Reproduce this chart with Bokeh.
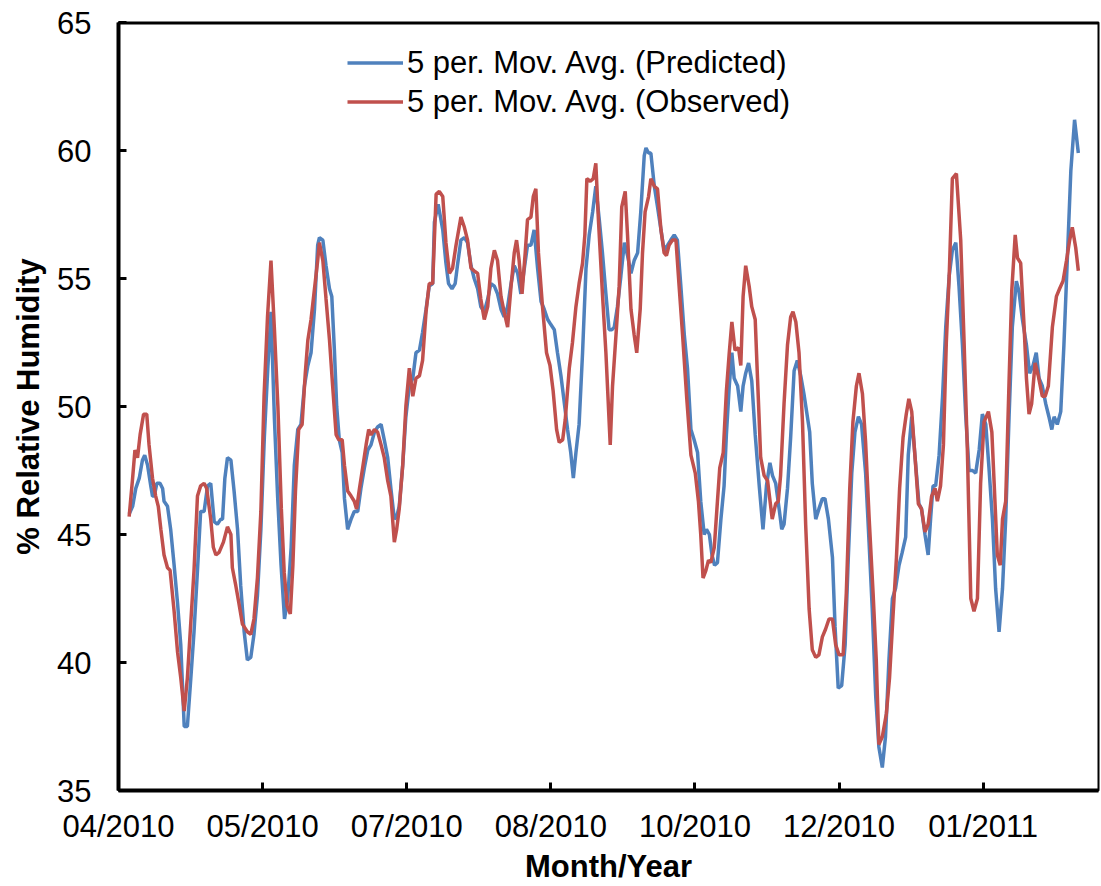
from bokeh.plotting import figure
from bokeh.models import Range1d, FixedTicker, Legend, LegendItem, Span
from bokeh.embed import file_html
from bokeh.resources import INLINE

# Days counted from the start of the date axis (04/2010); tick labels every 50 days
tick_days = [0, 50, 100, 150, 200, 250, 300]
tick_labels = ["04/2010", "05/2010", "07/2010", "08/2010", "10/2010", "12/2010", "01/2011"]
y_ticks = [35, 40, 45, 50, 55, 60, 65]

pred_day = [3.7, 4.9, 6.0, 7.2, 8.3, 9.1, 10.1, 11.2, 11.8, 12.4, 13.3, 14.4, 15.3, 15.8, 17.0, 18.1,
            19.3, 20.5, 21.6, 22.8, 23.9, 25.1, 26.2, 27.4, 28.5, 29.7, 30.9, 32.0, 33.2, 34.3, 35.5,
            36.1, 36.9, 37.8, 39.0, 40.1, 41.3, 42.4, 43.6, 44.7, 45.9, 47.0, 48.2, 49.4, 50.6, 51.8,
            52.9, 54.1, 55.2, 56.4, 57.6, 58.7, 59.9, 61.0, 62.2, 63.3, 64.5, 65.7, 66.8, 68.0, 69.1,
            69.7, 70.9, 72.0, 73.2, 74.0, 74.9, 75.7, 76.6, 77.6, 78.4, 79.5, 80.7, 81.8, 83.0, 84.1,
            85.3, 86.5, 87.6, 88.8, 89.9, 91.1, 92.2, 93.4, 94.5, 95.7, 96.5, 97.4, 98.6, 99.7, 100.9,
            102.1, 103.2, 104.4, 105.5, 106.7, 107.8, 109.0, 109.6, 110.9, 112.5, 113.6, 114.5, 115.7,
            116.8, 117.7, 118.8, 120.0, 121.1, 122.3, 123.4, 124.6, 125.7, 126.9, 128.1, 129.2, 130.4,
            131.5, 132.7, 133.8, 135.0, 136.2, 137.3, 138.5, 139.6, 140.8, 141.9, 143.1, 144.2, 145.4,
            146.6, 147.7, 148.9, 150.0, 151.2, 152.3, 153.5, 154.6, 155.8, 156.9, 157.8, 158.7, 159.8,
            161.0, 162.2, 163.3, 164.5, 165.6, 166.8, 167.9, 169.1, 170.2, 171.2, 172.0, 173.1, 174.3,
            175.5, 176.6, 177.8, 178.9, 180.1, 181.2, 182.4, 183.0, 183.9, 184.7, 185.9, 187.0, 188.2,
            189.3, 190.5, 191.6, 192.8, 193.9, 195.1, 196.3, 197.4, 198.6, 199.7, 200.9, 202.0, 203.2,
            204.0, 205.0, 205.9, 206.8, 207.8, 209.0, 210.1, 210.9, 211.9, 212.8, 213.6, 214.8, 215.9,
            216.7, 217.6, 218.6, 219.7, 220.9, 222.3, 223.6, 224.8, 226.0, 226.9, 228.0, 229.2, 230.1,
            230.9, 232.1, 233.2, 234.4, 235.5, 236.7, 237.8, 239.0, 239.8, 240.7, 241.9, 243.0, 244.2,
            245.1, 246.3, 247.7, 248.6, 249.7, 250.9, 252.1, 253.2, 254.4, 255.5, 256.7, 257.8, 259.2,
            260.4, 261.5, 262.7, 263.8, 265.0, 266.1, 267.3, 268.5, 269.6, 270.8, 271.9, 273.1, 274.0,
            275.2, 276.3, 277.7, 278.6, 279.8, 280.9, 281.8, 282.6, 283.5, 284.7, 285.9, 287.0, 288.2,
            289.3, 290.5, 291.6, 292.8, 293.9, 295.1, 296.3, 297.4, 298.6, 299.7, 300.9, 302.0, 303.2,
            304.3, 305.5, 306.7, 307.8, 309.0, 310.1, 311.5, 312.4, 313.6, 315.0, 316.1, 317.3, 318.4,
            319.4, 320.5, 321.7, 322.8, 323.8, 324.6, 325.7, 326.9, 328.0, 329.2, 330.4, 331.7, 333.0]
pred_rh = [45.8, 46.1, 46.8, 47.2, 47.9, 48.1, 47.7, 46.9, 46.5, 46.5, 47.0, 47.0, 46.8, 46.3, 46.1, 45.2,
           43.8, 42.3, 40.7, 37.5, 37.5, 39.4, 41.2, 43.6, 45.9, 45.9, 46.9, 47.0, 45.5, 45.4, 45.6,
           45.6, 47.2, 48.0, 47.9, 46.7, 45.2, 43.0, 41.2, 40.1, 40.2, 41.1, 42.6, 45.2, 48.8, 51.5,
           53.7, 49.5, 46.5, 43.8, 41.7, 42.5, 44.5, 47.7, 49.1, 49.3, 50.8, 51.6, 52.1, 53.8, 56.3,
           56.6, 56.5, 55.5, 54.6, 54.3, 52.2, 50.0, 48.7, 48.2, 46.4, 45.2, 45.6, 45.9, 45.9, 46.8,
           47.6, 48.3, 48.5, 49.0, 49.2, 49.3, 48.7, 48.0, 46.8, 45.6, 45.7, 46.1, 47.7, 49.6, 50.8,
           51.1, 52.1, 52.2, 52.9, 53.8, 54.7, 54.8, 57.2, 57.9, 56.9, 55.6, 54.8, 54.6,
           54.8, 55.6, 56.5, 56.6, 56.4, 55.5, 55.0, 54.6, 53.9, 53.7, 54.2, 54.8, 54.7,
           54.4, 53.8, 53.5, 53.9, 54.8, 55.5, 55.2, 54.4, 55.4, 56.3, 56.3, 56.9, 55.4,
           54.1, 53.8, 53.4, 53.2, 53.0, 52.1, 51.2, 50.2, 49.1, 48.2, 47.2, 48.2, 49.3,
           52.1, 55.4, 56.7, 57.6, 58.6, 57.3, 56.0, 54.4, 53.0, 53.0, 53.1, 53.9, 55.1,
           56.4, 55.9, 55.2, 55.7, 56.0, 57.6, 59.8, 60.1, 59.9, 59.9, 58.6, 57.8, 56.9,
           56.1, 56.3, 56.5, 56.7, 56.5, 54.7, 52.8, 51.5, 49.1, 48.7, 48.2, 46.3, 45.0,
           45.2, 45.0, 44.2, 43.8, 43.9, 45.6, 46.9, 48.9, 50.8, 52.1, 51.1, 50.8, 49.8,
           50.8, 51.3, 51.7, 51.0, 48.9, 46.9, 45.2, 46.9, 47.8, 47.3, 47.0, 46.0, 45.2,
           45.4, 46.8, 48.8, 51.4, 51.8, 51.2, 50.5, 49.6, 49.0, 47.0, 45.6, 46.0, 46.4,
           46.4, 45.6, 44.1, 41.4, 39.0, 39.1, 40.7, 44.1, 47.4, 49.0, 49.6, 49.3, 47.4,
           44.7, 42.1, 38.7, 36.7, 35.9, 37.1, 40.1, 42.5, 42.9, 43.8, 44.3, 44.9, 48.1,
           49.6, 48.1, 46.2, 46.0, 45.0, 44.2, 45.7, 46.9, 46.9, 48.1, 50.4, 53.1, 55.1,
           56.1, 56.4, 54.7, 52.4, 49.7, 47.5, 47.5, 47.4, 48.3, 49.7, 49.3, 47.6, 45.6,
           42.9, 41.2, 42.9, 45.6, 49.7, 53.1, 54.9, 54.5, 53.4, 52.4, 51.3, 51.6, 52.1,
           51.1, 50.8, 50.1, 49.6, 49.1, 49.6, 49.3, 49.8, 52.4, 55.8, 59.2, 61.2, 59.9]

obs_day = [3.7, 4.9, 5.7, 6.6, 7.5, 8.7, 9.8, 10.6, 11.8, 12.9, 13.8, 14.7, 15.8, 17.0, 17.9, 19.3,
           20.5, 21.6, 22.8, 23.9, 25.1, 26.2, 27.4, 28.5, 29.7, 30.6, 32.0, 32.9, 33.8, 34.9, 36.4,
           37.8, 39.0, 39.5, 40.7, 41.8, 43.0, 44.7, 45.9, 47.0, 48.2, 49.4, 50.5, 51.7, 52.9, 54.1,
           55.3, 56.5, 57.5, 58.5, 59.6, 60.5, 61.4, 62.5, 63.7, 64.8, 65.7, 66.8, 68.0, 69.1, 69.7,
           70.9, 72.0, 73.2, 74.3, 75.5, 76.4, 77.6, 78.4, 79.5, 80.7, 81.8, 82.6, 83.6, 84.7, 85.9,
           86.8, 87.6, 88.8, 89.9, 91.1, 92.2, 93.4, 94.5, 95.7, 96.5, 97.4, 98.6, 99.7, 100.9, 102.1,
           103.2, 104.4, 105.5, 106.7, 107.8, 109.0, 110.2, 111.3, 112.5, 113.6, 114.8, 115.9, 117.1,
           118.8, 120.0, 121.1, 122.3, 123.4, 124.6, 125.7, 126.9, 128.1, 129.2, 130.4, 131.5, 132.7,
           133.8, 135.0, 136.2, 137.3, 138.1, 139.0, 140.0, 141.1, 141.9, 143.1, 143.9, 144.8, 145.7,
           147.1, 148.5, 149.7, 150.8, 152.0, 152.9, 154.1, 155.0, 156.4, 157.5, 158.7, 159.8, 161.0,
           161.8, 162.5, 163.7, 164.7, 165.6, 166.5, 167.9, 169.1, 170.6, 171.4, 172.6, 173.7, 174.6,
           175.8, 176.6, 177.8, 178.9, 179.8, 181.0, 181.8, 182.7, 183.9, 184.7, 185.9, 187.0, 188.2,
           189.3, 190.1, 191.0, 192.2, 193.4, 194.5, 195.7, 197.1, 198.6, 200.1, 201.2, 202.0, 202.8,
           203.8, 204.7, 205.5, 206.7, 207.8, 208.6, 209.8, 210.9, 211.9, 212.8, 213.9, 215.1, 215.9,
           216.7, 217.6, 218.8, 219.7, 220.9, 221.7, 222.8, 224.0, 225.2, 226.8, 228.0, 228.9, 229.7,
           230.9, 232.1, 233.2, 234.0, 235.0, 236.1, 237.3, 238.4, 239.6, 240.7, 241.9, 243.0, 244.2,
           245.3, 246.5, 247.7, 248.8, 250.0, 251.4, 252.5, 253.7, 254.8, 256.0, 256.9, 258.1, 259.2,
           260.4, 261.8, 262.9, 263.8, 265.0, 266.4, 267.5, 268.7, 269.9, 271.0, 272.2, 273.3, 274.2,
           275.2, 276.3, 277.5, 278.6, 279.8, 280.9, 282.1, 283.3, 284.1, 285.2, 286.2, 287.2, 288.2,
           289.3, 290.0, 290.7, 292.2, 293.4, 294.5, 295.7, 296.8, 298.0, 299.1, 300.3, 301.8, 303.0,
           303.8, 304.9, 305.9, 306.7, 307.8, 309.0, 309.9, 311.1, 311.9, 313.0, 314.2, 315.0, 315.9,
           316.8, 318.0, 319.1, 320.5, 321.5, 322.6, 324.0, 325.4, 326.5, 327.7, 328.9, 330.0, 330.9,
           332.1, 333.0]
obs_rh = [45.7, 47.2, 48.3, 48.0, 48.9, 49.7, 49.7, 48.5, 47.2, 46.5, 46.1, 45.2, 44.2, 43.7, 43.6, 42.0,
          40.4, 39.4, 38.1, 39.4, 41.6, 43.6, 46.5, 46.9, 47.0, 46.8, 45.6, 44.5, 44.2, 44.3, 44.7,
          45.3, 45.0, 43.7, 43.0, 42.3, 41.5, 41.2, 41.1, 41.7, 43.3, 45.9, 50.4, 53.5, 55.7, 53.0,
          50.0, 46.0, 43.5, 42.2, 41.9, 43.8, 46.7, 49.1, 49.3, 51.3, 52.6, 53.4, 54.6, 55.7, 56.4,
          55.7, 54.2, 52.6, 50.8, 48.9, 48.7, 48.7, 47.7, 46.7, 46.5, 46.3, 46.0, 46.8, 47.6, 48.5,
          49.1, 48.9, 49.1, 49.0, 48.5, 48.0, 47.1, 46.5, 44.7, 45.2, 46.0, 47.7, 50.0, 51.5, 50.4,
          51.1, 51.2, 51.8, 53.7, 54.8, 54.8, 58.3, 58.4, 58.2, 56.4, 55.2, 55.4, 56.3,
          57.4, 57.0, 56.5, 55.4, 55.3, 55.2, 54.2, 53.4, 53.9, 55.4, 56.1, 55.7, 54.3,
          53.7, 53.1, 54.7, 56.0, 56.5, 55.7, 54.4, 56.0, 57.3, 57.4, 58.2, 58.5, 56.0,
          53.9, 52.1, 51.6, 50.6, 49.1, 48.6, 48.7, 49.5, 51.5, 52.5, 53.9, 54.8, 55.6,
          56.7, 58.9, 58.8, 58.9, 59.5, 57.3, 54.4, 52.1, 48.5, 50.8, 52.8, 54.7, 57.8,
          58.4, 56.7, 53.8, 52.8, 52.1, 53.8, 56.0, 57.6, 58.2, 58.9, 58.6, 58.5, 56.9,
          56.0, 55.9, 56.3, 56.5, 56.5, 54.7, 52.8, 50.4, 48.1, 47.4, 46.3, 45.0, 43.3,
          43.6, 44.0, 43.9, 44.5, 46.3, 47.6, 48.2, 50.6, 52.1, 53.3, 52.2, 52.3, 51.6,
          54.3, 55.5, 54.7, 53.9, 53.4, 51.1, 48.0, 47.3, 47.1, 45.6, 46.2, 46.3, 47.3,
          50.1, 52.4, 53.5, 53.7, 53.3, 52.1, 49.4, 45.4, 42.1, 40.5, 40.2, 40.3, 41.0,
          41.3, 41.7, 41.7, 40.7, 40.3, 40.3, 42.7, 46.8, 49.4, 50.8, 51.3, 50.5, 48.6,
          45.7, 42.7, 40.1, 36.8, 37.1, 38.0, 39.4, 41.8, 44.1, 46.8, 48.8, 49.7, 50.3,
          49.8, 48.1, 46.2, 46.0, 45.1, 45.4, 46.5, 46.8, 46.3, 46.9, 48.5, 52.5, 55.1,
          58.9, 59.0, 59.1, 56.5, 52.4, 48.3, 42.5, 42.0, 42.5, 47.0, 49.4, 49.8, 49.0,
          47.0, 44.2, 43.8, 45.6, 46.3, 51.1, 54.5, 56.7, 55.8, 55.6, 53.1, 51.1, 49.7,
          50.1, 51.7, 51.2, 50.4, 50.4, 50.8, 53.1, 54.3, 54.6, 54.9, 55.7, 56.5, 57.0,
          56.2, 55.3]

BLUE = "#4F81BD"
RED = "#C0504D"
FONT = "Liberation Sans"

p = figure(width=1101, height=886,
           x_range=Range1d(0, 340), y_range=Range1d(35, 65),
           output_backend="svg", toolbar_location=None,
           min_border_left=118, min_border_right=3, min_border_top=22, min_border_bottom=93)

p.xgrid.visible = False
p.ygrid.visible = False
p.outline_line_color = "black"
p.outline_line_width = 2
p.background_fill_color = "white"
p.border_fill_color = "white"

r_pred = p.line(pred_day, pred_rh, line_color=BLUE, line_width=3.5)
r_obs = p.line(obs_day, obs_rh, line_color=RED, line_width=3.5)

# thick top border of the plot area
p.add_layout(Span(location=65, dimension="width", line_color="black", line_width=4))

# axes
p.xaxis.ticker = FixedTicker(ticks=tick_days)
p.xaxis.major_label_overrides = {d: lab for d, lab in zip(tick_days, tick_labels)}
p.yaxis.ticker = FixedTicker(ticks=y_ticks)
for ax in (p.xaxis[0], p.yaxis[0]):
    ax.axis_line_color = "black"
    ax.axis_line_width = 4
    ax.major_tick_line_color = "black"
    ax.major_tick_line_width = 3
    ax.major_tick_in = 8
    ax.major_tick_out = 0
    ax.minor_tick_line_color = None
    ax.major_label_text_font = FONT
    ax.major_label_text_font_size = "31px"
    ax.major_label_text_color = "black"
    ax.axis_label_text_font = FONT
    ax.axis_label_text_font_size = "31px"
    ax.axis_label_text_font_style = "bold"
    ax.axis_label_text_color = "black"
p.xaxis.major_label_standoff = 18
p.yaxis.major_label_standoff = 27
p.yaxis.axis_label = "% Relative Humidity"
p.yaxis.axis_label_standoff = 8
p.xaxis.axis_label = "Month/Year"
p.xaxis.axis_label_standoff = 2

legend = Legend(items=[LegendItem(label="5 per. Mov. Avg. (Predicted)", renderers=[r_pred]),
                       LegendItem(label="5 per. Mov. Avg. (Observed)", renderers=[r_obs])],
                location=(229, 669))
legend.label_text_font = FONT
legend.label_text_font_size = "31px"
legend.label_text_color = "black"
legend.glyph_width = 56
legend.glyph_height = 39
legend.label_height = 39
legend.label_standoff = 4
legend.spacing = 0
legend.padding = 0
legend.margin = 0
legend.border_line_alpha = 0
legend.background_fill_alpha = 0
p.add_layout(legend)

open("out.html", "w").write(file_html(p, INLINE))
